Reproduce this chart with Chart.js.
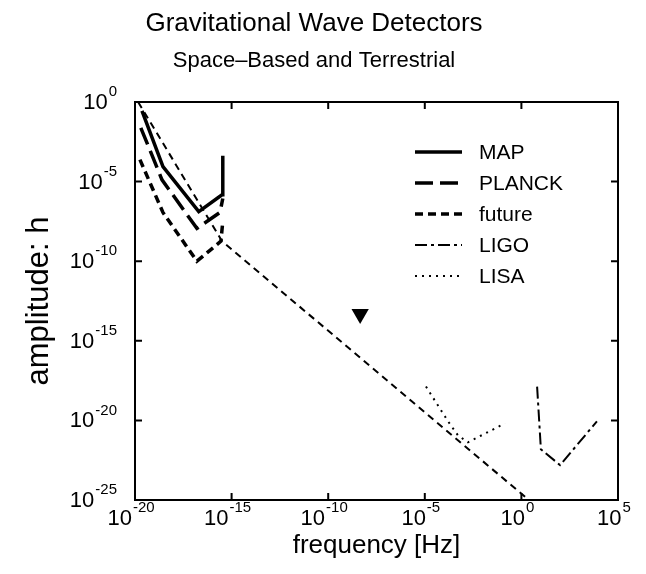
<!DOCTYPE html>
<html>
<head>
<meta charset="utf-8">
<script src="https://cdn.jsdelivr.net/npm/chart.js@4/dist/chart.umd.min.js"></script>
<style>
  body { margin: 0; background: #fff; }
</style>
</head>
<body>
<canvas id="myChart" width="646" height="574"></canvas>
<script>
// tick exponents (powers of ten)
const xTicks = [-20, -15, -10, -5, 0, 5];
const yTicks = [0, -5, -10, -15, -20, -25];

// detector curves, frequency [Hz] vs amplitude h
const mapFreq = [2.3e-20, 2.8e-19, 2.0e-17, 3.2e-16, 3.5e-16];
const mapAmp = [2.8e-1, 8.7e-5, 1.3e-7, 1.5e-6, 4.2e-4];
const planckFreq = [2.0e-20, 2.5e-19, 1.6e-17, 2.5e-16, 3.5e-16];
const planckAmp = [2.4e-2, 1.3e-5, 1.15e-8, 1.15e-7, 8.7e-7];
const futureFreq = [1.8e-20, 2.8e-19, 1.6e-17, 2.8e-16, 3.5e-16];
const futureAmp = [2.4e-4, 1.15e-7, 1.0e-10, 1.8e-9, 3.2e-8];
const ligoFreq = [6.5, 10.2, 100, 8100];
const ligoAmp = [1.33e-18, 1.55e-22, 1.55e-23, 8.7e-21];
const lisaFreq = [1.15e-5, 1.6e-4, 5.2e-4, 1.7e-3, 0.14];
const lisaAmp = [1.33e-18, 8.7e-21, 1.15e-21, 4.2e-22, 6.5e-21];

// unlabeled thin dashed spectrum + triangle marker
const specFreq = [1.45e-20, 3.2e-16, 2.2];
const specAmp = [1.0, 1.8e-9, 1.1e-25];
const markFreq = [4.5e-9];
const markAmp = [4.9e-14];

const toPoints = (xs, ys) => xs.map((x, i) => ({ x: x, y: ys[i] }));

const FONT = '"Liberation Sans", Arial, Helvetica, sans-serif';
Chart.defaults.font.family = FONT;
Chart.defaults.color = '#000';

function line(label, xs, ys, width, dash) {
  return {
    label: label,
    data: toPoints(xs, ys),
    showLine: true,
    borderColor: '#000',
    backgroundColor: '#000',
    borderWidth: width,
    borderDash: dash,
    pointRadius: 0,
    tension: 0,
  };
}

// box with inward ticks, 10^n labels, legend inside the plot
const decorations = {
  id: 'decorations',
  afterDatasetsDraw(chart) {
    const { ctx, chartArea: a, scales: { x, y } } = chart;
    ctx.save();
    ctx.strokeStyle = '#000';
    ctx.fillStyle = '#000';
    ctx.lineWidth = 2;
    ctx.setLineDash([]);
    ctx.strokeRect(a.left, a.top, a.right - a.left, a.bottom - a.top);

    ctx.beginPath();
    x.ticks.forEach(t => {
      const px = x.getPixelForValue(t.value);
      ctx.moveTo(px, a.bottom); ctx.lineTo(px, a.bottom - 7);
      ctx.moveTo(px, a.top); ctx.lineTo(px, a.top + 7);
    });
    y.ticks.forEach(t => {
      const py = y.getPixelForValue(t.value);
      ctx.moveTo(a.left, py); ctx.lineTo(a.left + 7, py);
      ctx.moveTo(a.right, py); ctx.lineTo(a.right - 7, py);
    });
    ctx.stroke();

    ctx.textBaseline = 'middle';
    ctx.textAlign = 'left';
    x.ticks.forEach(t => {
      const px = x.getPixelForValue(t.value);
      const exp = String(Math.round(Math.log10(t.value)));
      ctx.font = '22px ' + FONT;
      const wb = ctx.measureText('10').width;
      ctx.font = '15px ' + FONT;
      const we = ctx.measureText(exp).width;
      const left = px - (wb + we + 1) / 2 - 4;
      ctx.font = '22px ' + FONT;
      ctx.fillText('10', left, a.bottom + 19);
      ctx.font = '15px ' + FONT;
      ctx.fillText(exp, left + wb + 1, a.bottom + 8);
    });
    ctx.textAlign = 'right';
    y.ticks.forEach(t => {
      const py = y.getPixelForValue(t.value);
      const exp = String(Math.round(Math.log10(t.value)));
      const right = a.left - 18;
      ctx.font = '15px ' + FONT;
      const we = ctx.measureText(exp).width;
      ctx.fillText(exp, right, py - 10);
      ctx.font = '22px ' + FONT;
      ctx.fillText('10', right - we - 1, py + 1);
    });

    // legend
    const items = chart.data.datasets.filter(d => d.inLegend);
    ctx.textAlign = 'left';
    ctx.font = '21px ' + FONT;
    items.forEach((d, i) => {
      const ry = a.top + 50 + i * 31;
      ctx.beginPath();
      ctx.lineWidth = d.borderWidth;
      ctx.setLineDash(d.borderDash || []);
      ctx.moveTo(a.right - 203, ry);
      ctx.lineTo(a.right - 156, ry);
      ctx.stroke();
      ctx.setLineDash([]);
      ctx.fillText(d.label, a.right - 139, ry + 1);
    });
    ctx.restore();
  }
};

const datasets = [
  Object.assign(line('MAP', mapFreq, mapAmp, 3.5, []), { inLegend: true }),
  Object.assign(line('PLANCK', planckFreq, planckAmp, 3.5, [18, 7]), { inLegend: true }),
  Object.assign(line('future', futureFreq, futureAmp, 3.5, [8, 5]), { inLegend: true }),
  Object.assign(line('LIGO', ligoFreq, ligoAmp, 2, [12, 4, 3, 4]), { inLegend: true }),
  Object.assign(line('LISA', lisaFreq, lisaAmp, 2, [2, 5]), { inLegend: true }),
  line('spectrum', specFreq, specAmp, 2, [7, 5]),
  {
    label: 'marker',
    data: toPoints(markFreq, markAmp),
    showLine: false,
    pointStyle: 'triangle',
    rotation: 180,
    pointRadius: 10,
    backgroundColor: '#000',
    borderColor: '#000',
    borderWidth: 0,
  },
];

const ctx = document.getElementById('myChart').getContext('2d');

// eslint-disable-next-line
const chart = new Chart(ctx, {
  type: 'scatter',
  data: { datasets: datasets },
  options: {
    responsive: false,
    devicePixelRatio: 1,
    animation: false,
    layout: { padding: { top: 4, left: 10, right: 28, bottom: 0 } },
    plugins: {
      legend: { display: false },
      tooltip: { enabled: false },
      title: {
        display: true,
        text: 'Gravitational Wave Detectors',
        color: '#000',
        font: { size: 26, weight: 'normal' },
        padding: { top: 4, bottom: 0 },
      },
      subtitle: {
        display: true,
        text: 'Space–Based and Terrestrial',
        color: '#000',
        font: { size: 22, weight: 'normal' },
        padding: { top: 9, bottom: 27.4 },
      },
    },
    scales: {
      x: {
        type: 'logarithmic',
        min: 1e-20,
        max: 1e5,
        afterBuildTicks: scale => { scale.ticks = xTicks.map(e => ({ value: Math.pow(10, e) })); },
        afterFit: scale => { scale.height = 74; },
        ticks: { display: false },
        grid: { display: false },
        border: { display: false },
        title: {
          display: true,
          text: 'frequency [Hz]',
          color: '#000',
          font: { size: 26 },
          padding: { top: 0, bottom: 13 },
        },
      },
      y: {
        type: 'logarithmic',
        min: 1e-25,
        max: 1,
        afterBuildTicks: scale => { scale.ticks = yTicks.map(e => ({ value: Math.pow(10, e) })); },
        afterFit: scale => { scale.width = 125; },
        ticks: { display: false },
        grid: { display: false },
        border: { display: false },
        title: {
          display: true,
          text: 'amplitude: h',
          color: '#000',
          font: { size: 31 },
          padding: { top: 11, bottom: 0 },
        },
      },
    },
  },
  plugins: [decorations],
});
</script>
</body>
</html>
